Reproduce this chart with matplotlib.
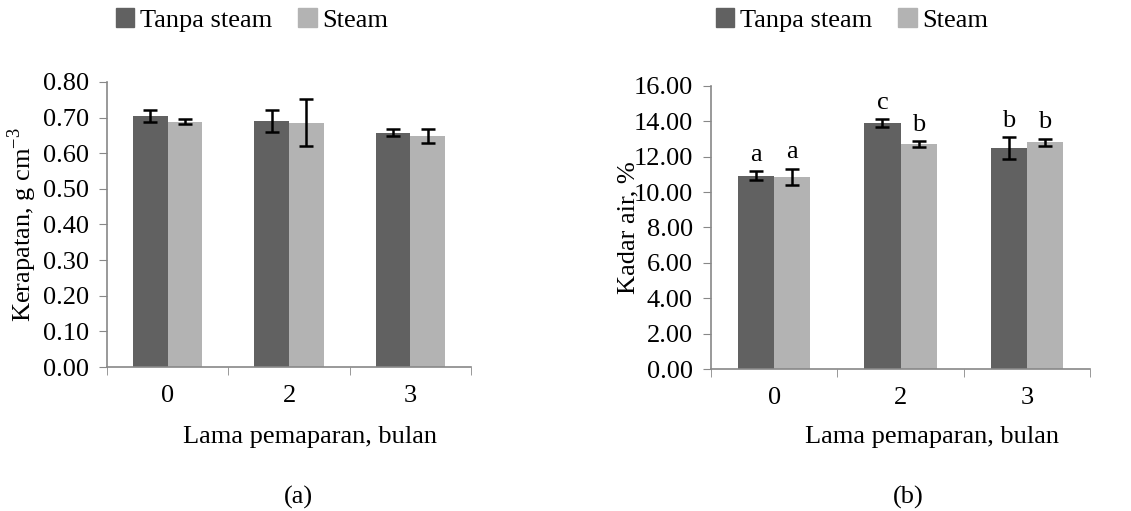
import matplotlib
matplotlib.use("Agg")
from matplotlib import pyplot as plt
from matplotlib.patches import Patch
import numpy as np

months = ["0", "2", "3"]
series = ["Tanpa steam", "Steam"]

dens_tanpa = [0.705, 0.691, 0.658]
dens_tanpa_err = [0.016, 0.030, 0.010]
dens_steam = [0.689, 0.686, 0.648]
dens_steam_err = [0.007, 0.066, 0.020]

kadar_tanpa = [10.93, 13.89, 12.50]
kadar_tanpa_err = [0.26, 0.22, 0.62]
kadar_steam = [10.86, 12.71, 12.82]
kadar_steam_err = [0.46, 0.18, 0.20]
kadar_tanpa_lbl = ["a", "c", "b"]
kadar_steam_lbl = ["a", "b", "b"]

dark = "#616161"
light = "#b3b3b3"
spine = "#888888"
fs = 19

plt.rcParams['font.family'] = ['Liberation Serif', 'DejaVu Serif']
plt.rcParams['axes.unicode_minus'] = False

W, H = 1131, 511
fig = plt.figure(figsize=(W / 100, H / 100), dpi=100)


def px_axes(x0, x1, ytop, ybot):
    return fig.add_axes([x0 / W, (H - ybot) / H, (x1 - x0) / W, (ybot - ytop) / H])


def style(ax, ymax, step, fmt):
    ax.set_xlim(-0.5, 2.5)
    ax.set_ylim(0, ymax)
    ticks = np.arange(0, ymax + step / 2, step)
    ax.set_yticks(ticks)
    ax.set_yticklabels([fmt % v for v in ticks], fontsize=fs)
    ax.set_xticks([0, 1, 2])
    ax.set_xticklabels(months, fontsize=fs)
    ax.set_xticks([-0.5, 0.5, 1.5, 2.5], minor=True)
    ax.tick_params(axis='x', which='major', length=0, pad=13)
    ax.tick_params(axis='x', which='minor', length=6, color=spine, direction='out')
    ax.tick_params(axis='y', length=6, color=spine, direction='out', pad=7)
    for s in ['top', 'right']:
        ax.spines[s].set_visible(False)
    for s in ['left', 'bottom']:
        ax.spines[s].set_color(spine)
        ax.spines[s].set_linewidth(1.2)


x = np.arange(len(months))
w = 0.285
ekw = dict(ecolor='black', capsize=5, elinewidth=1.8, capthick=1.8)

# (a) kerapatan
ax1 = px_axes(107, 471, 82, 367)
ax1.bar(x - w / 2, dens_tanpa, w, yerr=dens_tanpa_err, color=dark, error_kw=ekw)
ax1.bar(x + w / 2, dens_steam, w, yerr=dens_steam_err, color=light, error_kw=ekw)
style(ax1, 0.8, 0.1, "%.2f")
ax1.set_ylabel("Kerapatan, g cm$^{\\mathregular{-3}}$", fontsize=fs, labelpad=3)

# (b) kadar air
ax2 = px_axes(711, 1090, 86, 369)
ax2.bar(x - w / 2, kadar_tanpa, w, yerr=kadar_tanpa_err, color=dark, error_kw=ekw)
ax2.bar(x + w / 2, kadar_steam, w, yerr=kadar_steam_err, color=light, error_kw=ekw)
style(ax2, 16, 2, "%.2f")
ax2.set_ylabel("Kadar air, %", fontsize=fs, labelpad=-4)
for i in range(len(months)):
    ax2.text(x[i] - w / 2, kadar_tanpa[i] + kadar_tanpa_err[i] + 0.3, kadar_tanpa_lbl[i],
             ha='center', va='bottom', fontsize=fs)
    ax2.text(x[i] + w / 2, kadar_steam[i] + kadar_steam_err[i] + 0.3, kadar_steam_lbl[i],
             ha='center', va='bottom', fontsize=fs)

handles = [Patch(color=dark), Patch(color=light)]
for cx in [252 / W, 852 / W]:
    fig.legend(handles, series, loc='center', bbox_to_anchor=(cx, 1 - 20 / H), ncol=2,
               frameon=False, fontsize=fs, handlelength=0.7, handleheight=0.7,
               handletextpad=0.2, columnspacing=1.0, borderpad=0)

fig.text(310 / W, 1 - 437 / H, "Lama pemaparan, bulan", ha='center', va='center', fontsize=fs)
fig.text(932 / W, 1 - 437 / H, "Lama pemaparan, bulan", ha='center', va='center', fontsize=fs)
fig.text(298 / W, 1 - 497 / H, "(a)", ha='center', va='center', fontsize=fs)
fig.text(908 / W, 1 - 497 / H, "(b)", ha='center', va='center', fontsize=fs)

fig.savefig("out.png", dpi=100)
